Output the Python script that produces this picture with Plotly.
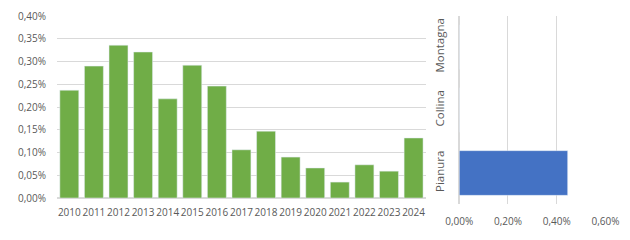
import plotly.graph_objects as go

years = ["2010", "2011", "2012", "2013", "2014", "2015", "2016", "2017",
         "2018", "2019", "2020", "2021", "2022", "2023", "2024"]
year_values = [0.00237, 0.00290, 0.00336, 0.00321, 0.00218, 0.00292, 0.00246, 0.00106,
               0.00147, 0.00090, 0.00066, 0.00035, 0.00073, 0.00059, 0.00132]

zones = ["Pianura", "Collina", "Montagna"]
zone_values = [0.00445, 0, 0]

grey = "#595959"
grid = "#d9d9d9"
font = dict(family="Open Sans", size=10, color=grey)
cat_font = dict(family="Open Sans", size=11.5, color=grey)

fig = go.Figure()
fig.add_trace(go.Bar(x=years, y=year_values, marker_color="#70AD47",
                     xaxis="x", yaxis="y", showlegend=False))
fig.add_trace(go.Bar(x=zone_values, y=zones, orientation="h", marker_color="#4472C4",
                     xaxis="x2", yaxis="y2", showlegend=False, width=0.71))

fig.update_layout(
    width=630, height=240,
    margin=dict(l=0, r=0, t=0, b=0),
    paper_bgcolor="white", plot_bgcolor="white",
    separators=",.",
    bargap=0.23,
    font=font,
    xaxis=dict(domain=[0.0905, 0.676], anchor="y", type="category", automargin=False,
               showgrid=False, showline=False, ticks="", tickfont=font,
               tickangle=0, ticklabelstandoff=7),
    yaxis=dict(domain=[0.175, 0.933], anchor="x", range=[0, 0.004], dtick=0.0005,
               automargin=False,
               tickformat=".2%", showgrid=True, gridcolor=grid, gridwidth=1,
               zeroline=True, zerolinecolor=grid, showline=False, ticks="",
               tickfont=font, ticklabelstandoff=10),
    xaxis2=dict(domain=[0.729, 0.961], anchor="y2", range=[0, 0.006], dtick=0.002,
                automargin=False,
                tickformat=".2%", showgrid=True, gridcolor=grid, zeroline=True,
                zerolinecolor=grid, showline=False, ticks="", tickfont=font,
                ticklabelstandoff=10),
    yaxis2=dict(domain=[0.148, 0.935], anchor="x2", type="category", automargin=False,
                showgrid=False, showline=False, ticks="", tickangle=-90,
                tickfont=cat_font, ticklabelstandoff=12),
)

fig.write_html("out.html")
